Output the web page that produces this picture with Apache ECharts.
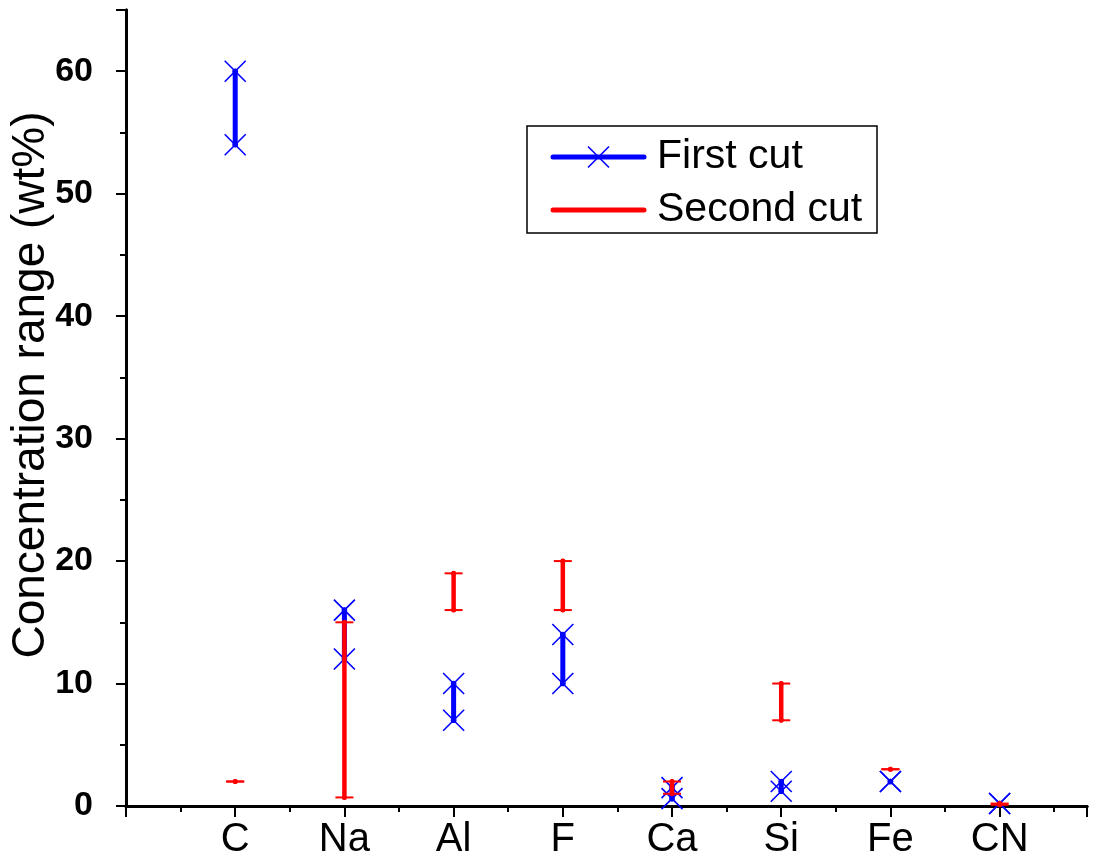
<!DOCTYPE html>
<html>
<head>
<meta charset="utf-8">
<script src="https://cdn.jsdelivr.net/npm/echarts@6/dist/echarts.min.js"></script>
<style>
html,body{margin:0;padding:0;background:#fff;}
#chart{width:1097px;height:859px;}
</style>
</head>
<body>
<div id="chart"></div>
<script>
var categories = ['C', 'Na', 'Al', 'F', 'Ca', 'Si', 'Fe', 'CN'];
var firstLow  = [54, 12, 7, 10, 0.6, 1.2, 2, 0.2];
var firstHigh = [60, 16, 10, 14, 1.5, 2, 2, 0.2];
var secondLow  = [2, 0.7, 16, 16, 1, 7, 3, 0.1];
var secondHigh = [2, 15, 19, 20, 2, 10, 3, 0.2];
var yTicks = [0, 10, 20, 30, 40, 50, 60];

var FONT = '"Liberation Sans", Arial, sans-serif';
var BLUE = '#0000ff', RED = '#ff0000';

function buildData(low, high) {
  return categories.map(function (c, i) { return [i + 1, low[i], high[i]]; });
}

function renderFirst(params, api) {
  var x = api.value(0);
  var p1 = api.coord([x, api.value(1)]);
  var p2 = api.coord([x, api.value(2)]);
  var s = 10.5;
  var children = [{
    type: 'line',
    shape: {x1: p1[0], y1: p1[1], x2: p2[0], y2: p2[1]},
    style: {stroke: BLUE, lineWidth: 5, lineCap: 'round'}
  }, {
    type: 'circle', shape: {cx: p1[0], cy: p1[1], r: 2.8}, style: {fill: BLUE}
  }, {
    type: 'circle', shape: {cx: p2[0], cy: p2[1], r: 2.8}, style: {fill: BLUE}
  }];
  [p1, p2].forEach(function (p) {
    children.push({type: 'line', shape: {x1: p[0]-s, y1: p[1]-s, x2: p[0]+s, y2: p[1]+s}, style: {stroke: BLUE, lineWidth: 1.6}});
    children.push({type: 'line', shape: {x1: p[0]-s, y1: p[1]+s, x2: p[0]+s, y2: p[1]-s}, style: {stroke: BLUE, lineWidth: 1.6}});
  });
  return {type: 'group', children: children};
}

function renderSecond(params, api) {
  var x = api.value(0);
  var p1 = api.coord([x, api.value(1)]);
  var p2 = api.coord([x, api.value(2)]);
  var w = 9;
  var children = [{
    type: 'line',
    shape: {x1: p1[0], y1: p1[1], x2: p2[0], y2: p2[1]},
    style: {stroke: RED, lineWidth: 4.5, lineCap: 'round'}
  }, {
    type: 'circle', shape: {cx: p1[0], cy: p1[1], r: 2.5}, style: {fill: RED}
  }, {
    type: 'circle', shape: {cx: p2[0], cy: p2[1], r: 2.5}, style: {fill: RED}
  }];
  [p1, p2].forEach(function (p) {
    children.push({type: 'line', shape: {x1: p[0]-w, y1: p[1], x2: p[0]+w, y2: p[1]}, style: {stroke: RED, lineWidth: 2}});
  });
  return {type: 'group', children: children};
}

var chart = echarts.init(document.getElementById('chart'), null, {renderer: 'canvas'});

var axisLineStyle = {color: '#000', width: 3};

var option = {
  backgroundColor: '#fff',
  animation: false,
  grid: {left: 126, right: 10, top: 10, bottom: 53, containLabel: false, outerBoundsMode: 'none'},
  xAxis: [{
    type: 'value', position: 'bottom', min: 0, max: 8.8, interval: 1,
    axisLine: {show: true, lineStyle: axisLineStyle},
    axisTick: {show: true, length: 4, lineStyle: {color: '#000', width: 1.5}},
    minorTick: {show: true, splitNumber: 2, length: 3, lineStyle: {color: '#000', width: 1.5}},
    splitLine: {show: false},
    axisLabel: {
      show: true, margin: 14, color: '#000', fontSize: 40, fontFamily: FONT,
      showMaxLabel: false,
      formatter: function (v) { return categories[v - 1] || ''; }
    }
  }, {
    type: 'value', position: 'top', min: 0, max: 8.8, interval: 1,
    axisLine: {show: true, lineStyle: axisLineStyle},
    axisTick: {show: true, inside: true, length: 11, lineStyle: {color: '#000', width: 2}},
    minorTick: {show: true, splitNumber: 2, length: 6, lineStyle: {color: '#000', width: 2}},
    splitLine: {show: false},
    axisLabel: {show: false}
  }],
  yAxis: [{
    type: 'value', position: 'left', min: 0, max: 65, interval: 10,
    name: 'Concentration range (wt%)', nameLocation: 'middle', nameGap: 72, nameRotate: 90,
    nameMoveOverlap: false,
    nameTextStyle: {color: '#000', fontSize: 46, fontFamily: FONT, padding: [0, 0, 0, 46]},
    axisLine: {show: true, lineStyle: axisLineStyle},
    axisTick: {show: true, length: 10, lineStyle: {color: '#000', width: 2}},
    minorTick: {show: true, splitNumber: 2, length: 6, lineStyle: {color: '#000', width: 2}},
    splitLine: {show: false},
    axisLabel: {
      show: true, margin: 33, color: '#000', fontSize: 34, fontWeight: 'bold', fontFamily: FONT,
      showMaxLabel: false,
      formatter: function (v) { return yTicks.indexOf(v) >= 0 ? String(v) : ''; }
    }
  }, {
    type: 'value', position: 'right', min: 0, max: 65, interval: 10,
    axisLine: {show: true, lineStyle: axisLineStyle},
    axisTick: {show: true, inside: true, length: 9, lineStyle: {color: '#000', width: 2}},
    minorTick: {show: true, splitNumber: 2, length: 6, lineStyle: {color: '#000', width: 2}},
    splitLine: {show: false},
    axisLabel: {show: false}
  }],
  series: [{
    name: 'First cut', type: 'custom', xAxisIndex: 0, yAxisIndex: 0,
    renderItem: renderFirst, data: buildData(firstLow, firstHigh), z: 3,
    encode: {x: 0, y: [1, 2]}
  }, {
    name: 'Second cut', type: 'custom', xAxisIndex: 0, yAxisIndex: 0,
    renderItem: renderSecond, data: buildData(secondLow, secondHigh), z: 4,
    encode: {x: 0, y: [1, 2]}
  }],
  graphic: [
    {type: 'rect', shape: {x: 527, y: 126, width: 350, height: 107}, style: {fill: '#fff', stroke: '#000', lineWidth: 1.5}, z: 10},
    {type: 'line', shape: {x1: 553, y1: 157, x2: 644, y2: 157}, style: {stroke: BLUE, lineWidth: 5, lineCap: 'round'}, z: 11},
    {type: 'line', shape: {x1: 588, y1: 146.5, x2: 609, y2: 167.5}, style: {stroke: BLUE, lineWidth: 1.6}, z: 11},
    {type: 'line', shape: {x1: 588, y1: 167.5, x2: 609, y2: 146.5}, style: {stroke: BLUE, lineWidth: 1.6}, z: 11},
    {type: 'text', x: 657, y: 157, style: {text: 'First cut', fill: '#000', font: '41px ' + FONT, textVerticalAlign: 'middle', verticalAlign: 'middle'}, z: 11},
    {type: 'line', shape: {x1: 553, y1: 210, x2: 644, y2: 210}, style: {stroke: RED, lineWidth: 5, lineCap: 'round'}, z: 11},
    {type: 'text', x: 657, y: 210, style: {text: 'Second cut', fill: '#000', font: '41px ' + FONT, textVerticalAlign: 'middle', verticalAlign: 'middle'}, z: 11}
  ]
};
chart.setOption(option);
</script>
</body>
</html>
